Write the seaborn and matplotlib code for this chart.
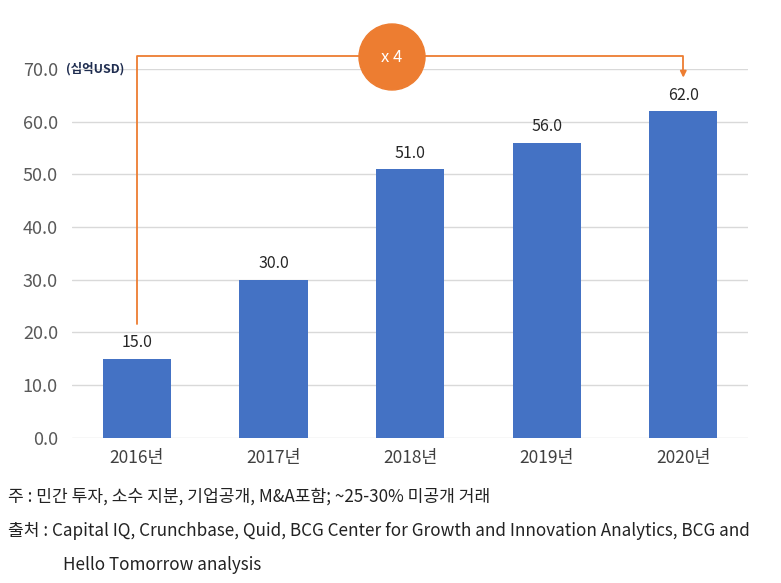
import matplotlib
matplotlib.use("Agg")
import matplotlib.pyplot as plt
import seaborn as sns
import pandas as pd
from matplotlib.patches import Ellipse

# --- Data ---
years = ["2016년", "2017년", "2018년", "2019년", "2020년"]
values = [15.0, 30.0, 51.0, 56.0, 62.0]
yticks = [0, 10, 20, 30, 40, 50, 60, 70]

df = pd.DataFrame({"year": years, "value": values})

sns.set_style("white")
plt.rcParams["font.family"] = ["Noto Sans CJK KR", "DejaVu Sans"]

fig = plt.figure(figsize=(7.81, 5.83), dpi=100)
ax = fig.add_axes([0.092, 0.249, 0.866, 0.633])

sns.barplot(data=df, x="year", y="value", color="#4472C4", width=0.5,
            saturation=1, ax=ax, zorder=3, linewidth=0)

ax.set_ylim(0, 70)
ax.set_yticks(yticks)
ax.set_yticklabels([f"{v:.1f}" for v in yticks], fontsize=13, color="#595959")
ax.tick_params(axis="y", length=0, pad=10)
ax.tick_params(axis="x", length=0, pad=8)
for lab in ax.get_xticklabels():
    lab.set_fontsize(12.5)
    lab.set_color("#404040")
    lab.set_fontweight("medium")
ax.set_xlabel("")
ax.set_ylabel("")
ax.grid(axis="y", color="#D9D9D9", linewidth=1, zorder=0)
for s in ax.spines.values():
    s.set_visible(False)

# value labels
for i, v in enumerate(values):
    ax.text(i, v + 1.4, f"{v:.1f}", ha="center", va="bottom", fontsize=11.5, color="#262626")

# unit label
ax.text(-0.52, 70, "(십억USD)", ha="left", va="center", fontsize=9,
        fontweight="bold", color="#1F2D50")

# growth bracket
orange = "#ED7D31"
top = 72.5
ax.plot([0, 0, 4, 4], [21.5, top, top, 69.5], color=orange, lw=1.3,
        clip_on=False, zorder=5)
ax.annotate("", xy=(4, 67.8), xytext=(4, 69.8),
            arrowprops=dict(arrowstyle="-|>", color=orange, lw=1.3,
                            mutation_scale=9), annotation_clip=False)

# circle badge
circ = Ellipse((392 / 781, (583 - 57) / 583), 66 / 781, 66 / 583,
               transform=fig.transFigure, color=orange, zorder=6, clip_on=False)
fig.patches.append(circ)
fig.text(392 / 781, (583 - 58) / 583, "x 4", ha="center", va="center",
         fontsize=12, color="white", fontweight="medium", zorder=7)

# footnotes
fs = 12.3
fig.text(8 / 781, 1 - 497 / 583, "주 : 민간 투자, 소수 지분, 기업공개, M&A포함; ~25-30% 미공개 거래",
         ha="left", va="center", fontsize=fs, color="#222222")
fig.text(8 / 781, 1 - 531 / 583,
         "출처 : Capital IQ, Crunchbase, Quid, BCG Center for Growth and Innovation Analytics, BCG and",
         ha="left", va="center", fontsize=fs, color="#222222")
fig.text(63 / 781, 1 - 565 / 583, "Hello Tomorrow analysis",
         ha="left", va="center", fontsize=fs, color="#222222")

fig.savefig("out.png", dpi=100)
